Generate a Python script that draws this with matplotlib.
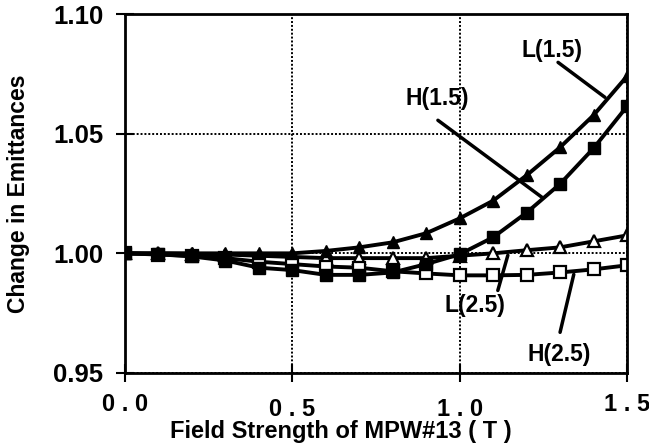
import matplotlib
matplotlib.use("Agg")
import matplotlib.pyplot as plt

plt.rcParams['font.family'] = ['Liberation Sans', 'DejaVu Sans']
plt.rcParams['font.weight'] = 'bold'

# field strength (T)
field = [0.0, 0.1, 0.2, 0.3, 0.4, 0.5, 0.6, 0.7, 0.8, 0.9, 1.0, 1.1, 1.2, 1.3, 1.4, 1.5]

# change in emittances
l15 = [1.000, 1.000, 1.000, 1.000, 1.000, 1.000, 1.001, 1.0025, 1.0046, 1.0084,
       1.0146, 1.022, 1.0326, 1.0443, 1.0577, 1.074]
h15 = [1.000, 0.9996, 0.9987, 0.997, 0.994, 0.993, 0.991, 0.991, 0.992, 0.9955,
       0.9996, 1.0067, 1.017, 1.029, 1.0439, 1.0614]
l25 = [1.000, 1.000, 0.9998, 0.9995, 0.999, 0.9985, 0.998, 0.998, 0.998, 0.998,
       0.999, 1.000, 1.0013, 1.0025, 1.005, 1.0075]
h25 = [1.000, 0.9995, 0.999, 0.998, 0.9965, 0.9955, 0.9945, 0.994, 0.9925, 0.9916,
       0.9908, 0.9908, 0.991, 0.992, 0.9933, 0.995]

xticks = [0.0, 0.5, 1.0, 1.5]
xticklabels = ['0 . 0', '0 . 5', '1 . 0', '1 . 5']
yticks = [0.95, 1.00, 1.05, 1.10]
yticklabels = ['0.95', '1.00', '1.05', '1.10']

fig = plt.figure(figsize=(6.49, 4.45), dpi=100)
ax = fig.add_axes([0.1926, 0.1618, 0.7735, 0.8067])

lw = 2.8
ax.plot(field, l25, '-^', color='k', lw=lw, ms=8.5, mfc='white', mec='k', mew=1.6, zorder=3)
ax.plot(field, h25, '-s', color='k', lw=lw, ms=8, mfc='white', mec='k', mew=1.6, zorder=3)
ax.plot(field, l15, '-^', color='k', lw=lw, ms=9, zorder=4)
ax.plot(field, h15, '-s', color='k', lw=lw, ms=8, zorder=4)

ax.set_xlim(0, 1.5)
ax.set_ylim(0.95, 1.10)
ax.set_xticks(xticks)
ax.set_xticklabels(xticklabels, fontsize=17, fontweight='bold')
ax.set_yticks(yticks)
ax.set_yticklabels(yticklabels, fontsize=18.5, fontweight='bold')
ax.tick_params(direction='inout', length=13, width=1.5, color='k')
ax.tick_params(axis='x', pad=8)
ax.tick_params(axis='y', pad=9)
for i in (1, 2):
    ax.xaxis.get_major_ticks()[i].set_pad(11.5)

ax.grid(True, color='k', ls=(0, (1, 1)), lw=1.4)
for s in ax.spines.values():
    s.set_linewidth(2)
    s.set_zorder(5)

ax.set_xlabel('Field Strength of MPW#13 ( T )', fontsize=17, fontweight='bold')
ax.xaxis.set_label_coords(0.43, -0.132)
ax.set_ylabel('Change in Emittances', fontsize=16.5, fontweight='bold')
ax.yaxis.set_label_coords(-0.19, 0.5)

# series labels with leader lines
labels = [('L(1.5)', (1.276, 1.0848), (1.294, 1.0798), (1.434, 1.0652)),
          ('H(1.5)', (0.932, 1.0648), (0.935, 1.0556), (1.246, 1.0234)),
          ('L(2.5)', (1.046, 0.9783), (1.114, 0.9845), (1.144, 0.9992)),
          ('H(2.5)', (1.297, 0.9578), (1.300, 0.967), (1.341, 0.9912))]
for txt, tpos, p0, p1 in labels:
    ax.text(tpos[0], tpos[1], txt, ha='center', va='center', fontsize=16.5, fontweight='bold')
    ax.annotate('', xy=p1, xytext=p0,
                arrowprops=dict(arrowstyle='-', lw=2.5, color='k', shrinkA=0, shrinkB=0))

fig.savefig('out.png', dpi=100)
